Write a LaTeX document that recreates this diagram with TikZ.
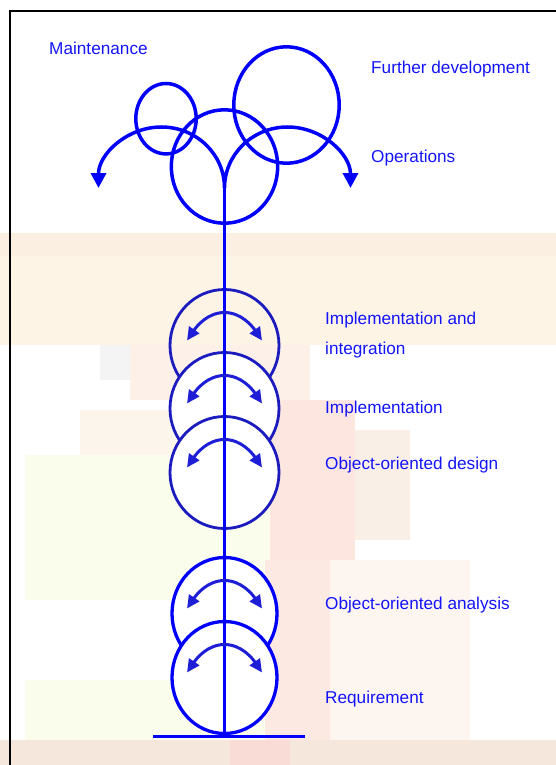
\documentclass[tikz,border=0pt]{standalone}
\usepackage{fontspec}
\setmainfont{Liberation Sans}
\usetikzlibrary{shapes.geometric,arrows.meta,calc}
\definecolor{lblue}{RGB}{0,0,250}
\definecolor{dblue}{RGB}{28,28,190}
\definecolor{ablue}{RGB}{30,30,215}
\definecolor{txtblue}{RGB}{20,20,250}
\newcommand\twowayarrow[1]{%
  \draw[innerarr] ($(#1)+(-37.5,-5)$) .. controls ($(#1)+(-28,-19)$) and ($(#1)+(-17,-33)$) .. ($(#1)+(0,-33)$)
     .. controls ($(#1)+(17,-33)$) and ($(#1)+(28,-19)$) .. ($(#1)+(37.5,-5)$);}
\begin{document}
\begin{tikzpicture}[x=1pt,y=-1pt,
  topring/.style={ellipse, draw=lblue, line width=3.5pt, inner sep=0pt},
  ringdark/.style={ellipse, draw=dblue, line width=2.8pt, inner sep=0pt, minimum width=109pt, minimum height=112pt},
  ringbright/.style={ellipse, draw=lblue, line width=3.3pt, inner sep=0pt, minimum width=105pt, minimum height=112pt},
  innerarr/.style={draw=ablue, line width=3pt, {Triangle[length=13pt,width=12pt]}-{Triangle[length=13pt,width=12pt]}},
  yarc/.style={draw=lblue, line width=3.5pt, {Triangle[length=15pt,width=15pt]}-{Triangle[length=15pt,width=15pt]}},
  stemline/.style={draw=lblue, line width=3pt},
  lbl/.style={anchor=base west, inner sep=0pt, text=txtblue, font=\fontsize{17.2}{20}\selectfont}]
\useasboundingbox (0,0) rectangle (556,765);
% faint background blocks
\fill[fill={rgb,255:red,253;green,244;blue,230}] (0,233) rectangle (556,345);
\fill[fill={rgb,255:red,251;green,239;blue,225}] (0,233) rectangle (556,256);
\fill[fill={rgb,255:red,252;green,240;blue,233}] (130,345) rectangle (310,400);
\fill[fill={rgb,255:red,244;green,244;blue,244}] (100,345) rectangle (130,380);
\fill[fill={rgb,255:red,252;green,230;blue,223}] (270,400) rectangle (355,560);
\fill[fill={rgb,255:red,252;green,245;blue,236}] (80,410) rectangle (270,455);
\fill[fill={rgb,255:red,250;green,252;blue,236}] (25,455) rectangle (270,600);
\fill[fill={rgb,255:red,250;green,239;blue,231}] (355,430) rectangle (410,540);
\fill[fill={rgb,255:red,252;green,233;blue,226}] (265,560) rectangle (330,740);
\fill[fill={rgb,255:red,253;green,245;blue,240}] (330,560) rectangle (470,740);
\fill[fill={rgb,255:red,250;green,252;blue,236}] (25,680) rectangle (265,740);
\fill[fill={rgb,255:red,245;green,231;blue,220}] (0,740) rectangle (556,765);
\fill[fill={rgb,255:red,249;green,220;blue,213}] (230,740) rectangle (290,765);
% frame
\coordinate (fbl) at (9.5,765);
\coordinate (ftl) at (9.5,11);
\coordinate (ftr) at (556,11);
\draw[black, line width=2pt] (fbl) -- (ftl) -- (ftr);
% top circles
\node[topring, minimum width=60.4pt, minimum height=70.4pt] (maint) at (166,118.7) {};
\node[topring, minimum width=105.4pt, minimum height=116.4pt] (further) at (286.5,105) {};
\node[topring, minimum width=106.4pt, minimum height=113.4pt] (ops) at (224.5,166.5) {};
% Y branch
\coordinate (ytl) at (98.5,188);
\coordinate (yj) at (224.5,188);
\draw[yarc] (ytl) arc[start angle=180, end angle=0, x radius=63pt, y radius=61pt]
                arc[start angle=180, end angle=0, x radius=63pt, y radius=61pt];
% stacked circles
\node[ringdark] (c1) at (224.5,345.5) {};
\node[ringdark, fill=white] (c2) at (224.5,408.5) {};
\node[ringdark, fill=white] (c3) at (224.5,472.5) {};
\node[ringbright, fill=white] (c4) at (224.5,613.5) {};
\node[ringbright, fill=white] (c5) at (224.5,677.5) {};
% stem and base
\coordinate (sb) at (224.5,736);
\draw[stemline] (yj) -- (sb);
\coordinate (bl) at (153,736);
\coordinate (br) at (305,736);
\draw[stemline] (bl) -- (br);
% inner two-way arrows
\twowayarrow{c1}
\twowayarrow{c2}
\twowayarrow{c3}
\twowayarrow{c4}
\twowayarrow{c5}
% labels
\node[lbl] (tmaint) at (49,55) {Maintenance};
\node[lbl] (tfurther) at (371,74) {Further development};
\node[lbl] (tops) at (371,162) {Operations};
\node[lbl] (timpint) at (325,324) {Implementation and};
\node[lbl] (timpint2) at (325,354) {integration};
\node[lbl] (timp) at (325,413) {Implementation};
\node[lbl] (tood) at (325,469) {Object-oriented design};
\node[lbl] (tooa) at (325,609) {Object-oriented analysis};
\node[lbl] (treq) at (325,703) {Requirement};
\end{tikzpicture}
\end{document}
